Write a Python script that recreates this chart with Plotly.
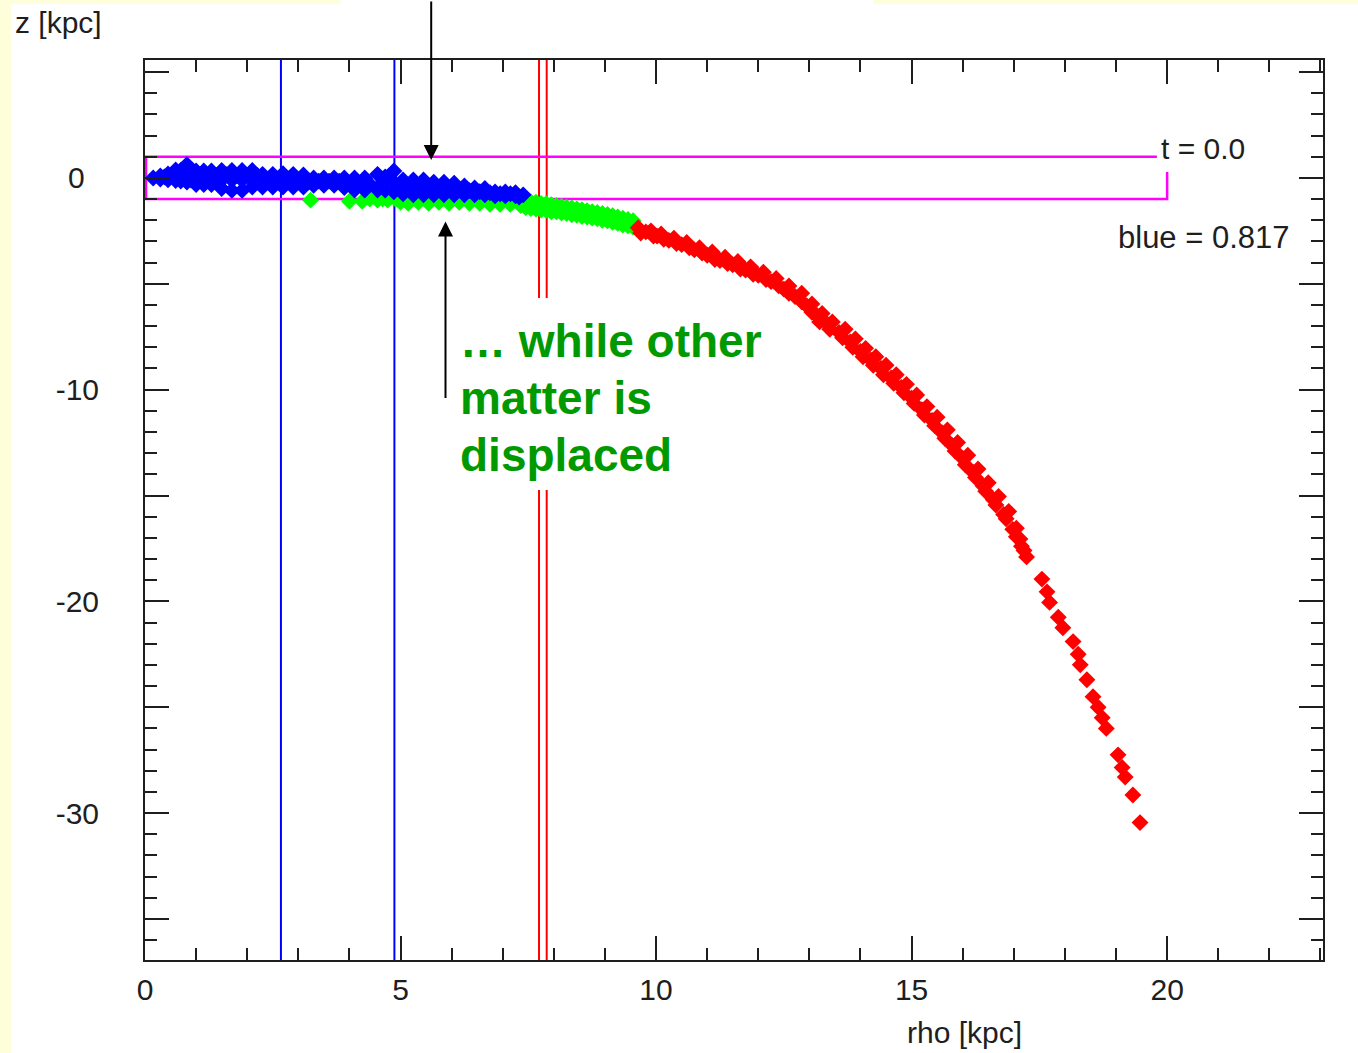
import plotly.graph_objects as go

# ---- particle positions: rho [kpc], z [kpc] ----
blue_rho = [0.16, 0.30, 0.30, 0.38, 0.45, 0.45, 0.52, 0.60, 0.60, 0.70, 0.70,
            0.82, 0.82, 0.82, 0.90, 0.90, 1.00, 1.00, 1.08, 1.15, 1.15, 1.22,
            1.30, 1.30, 1.40, 1.50, 1.50, 1.50, 1.60, 1.70, 1.70, 1.70, 1.80,
            1.90, 1.90, 1.90, 2.00, 2.10, 2.10, 2.10, 2.20, 2.30, 2.30, 2.40,
            2.50, 2.50, 2.60, 2.70, 2.70, 2.80, 2.90, 2.90, 3.00, 3.10, 3.10,
            3.20, 3.30, 3.30, 3.40, 3.50, 3.50, 3.60, 3.70, 3.70, 3.80, 3.90,
            3.90, 4.00, 4.10, 4.10, 4.20, 4.30, 4.30, 4.40, 4.55, 4.55, 4.62,
            4.70, 4.70, 4.78, 4.87, 4.87, 4.87, 4.95, 5.05, 5.05, 5.15, 5.25,
            5.25, 5.35, 5.45, 5.45, 5.55, 5.65, 5.65, 5.75, 5.85, 5.85, 5.95,
            6.05, 6.05, 6.15, 6.25, 6.25, 6.35, 6.45, 6.45, 6.55, 6.65, 6.65,
            6.75, 6.85, 6.85, 6.95, 7.05, 7.05, 7.15, 7.25, 7.25, 7.32, 7.40]
blue_z = [0.00, 0.09, -0.05, 0.05, 0.19, -0.09, 0.10, 0.38, -0.12, 0.35, -0.15,
          0.63, 0.15, -0.20, 0.40, -0.10, 0.33, -0.31, 0.00, 0.33, -0.31, 0.00,
          0.33, -0.31, 0.10, 0.35, -0.10, -0.50, 0.15, 0.35, -0.10, -0.59, 0.10,
          0.35, -0.10, -0.59, 0.10, 0.35, -0.05, -0.43, 0.10, 0.17, -0.43, -0.15,
          0.17, -0.43, -0.15, 0.20, -0.43, -0.15, 0.17, -0.43, -0.15, 0.14, -0.43,
          -0.20, 0.00, -0.35, -0.15, 0.00, -0.35, -0.15, 0.00, -0.35, -0.15, 0.00,
          -0.45, -0.25, 0.00, -0.57, -0.30, 0.00, -0.57, -0.30, 0.17, -0.57, -0.30,
          0.05, -0.57, 0.10, 0.33, -0.20, -0.65, -0.45, -0.10, -0.75, -0.45, -0.10,
          -0.80, -0.45, -0.10, -0.80, -0.50, -0.20, -0.80, -0.50, -0.20, -0.80, -0.50,
          -0.25, -0.80, -0.55, -0.38, -0.80, -0.60, -0.47, -0.80, -0.65, -0.50, -0.80,
          -0.70, -0.66, -0.85, -0.75, -0.66, -0.85, -0.75, -0.70, -0.85, -0.90, -0.80]

green_rho = [3.24, 4.00, 4.25, 4.40, 4.55, 4.65, 4.75, 4.90,
             5.00, 5.10, 5.15, 5.30, 5.35, 5.50, 5.55, 5.70, 5.75, 5.90, 5.95,
             6.10, 6.15, 6.30, 6.35, 6.50, 6.55, 6.70, 6.75, 6.90, 6.95,
             7.10, 7.15, 7.30, 7.35,
             7.45, 7.45, 7.55, 7.55, 7.65, 7.65, 7.75, 7.75, 7.85, 7.85,
             7.95, 7.95, 8.05, 8.05, 8.15, 8.15, 8.25, 8.25, 8.35, 8.35,
             8.45, 8.45, 8.55, 8.55, 8.65, 8.65, 8.75, 8.75, 8.85, 8.85,
             8.95, 8.95, 9.05, 9.05, 9.15, 9.15, 9.25, 9.25, 9.35, 9.35,
             9.45, 9.45, 9.55, 9.55]
green_z = [-1.05, -1.10, -1.10, -1.00, -1.05, -1.00, -1.05, -1.00,
           -1.15, -1.00, -1.20, -1.00, -1.15, -1.00, -1.20, -1.00, -1.15, -1.00, -1.20,
           -1.00, -1.15, -1.00, -1.20, -1.05, -1.20, -1.05, -1.25, -1.05, -1.25,
           -1.05, -1.25, -1.10, -1.30,
           -1.05, -1.40, -1.13, -1.45, -1.15, -1.47, -1.20, -1.52, -1.22, -1.53,
           -1.27, -1.60, -1.30, -1.60, -1.34, -1.66, -1.38, -1.68, -1.42, -1.74,
           -1.46, -1.76, -1.50, -1.82, -1.55, -1.85, -1.59, -1.90, -1.63, -1.93,
           -1.68, -2.00, -1.73, -2.03, -1.78, -2.10, -1.84, -2.14, -1.90, -2.22,
           -1.96, -2.26, -2.02, -2.32]

red_rho = [9.65, 9.70, 9.80, 9.90, 9.95, 10.02, 10.10, 10.15, 10.25, 10.35, 10.40,
           10.50, 10.60, 10.65, 10.75, 10.85, 10.90, 11.00, 11.10, 11.15, 11.25,
           11.35, 11.40, 11.50, 11.60, 11.65, 11.75, 11.85, 11.90, 12.00, 12.10,
           12.15, 12.25, 12.35, 12.40, 12.50, 12.60, 12.60, 12.72, 12.85, 12.85,
           12.95, 13.05, 13.05, 13.15, 13.25, 13.20, 13.35, 13.45, 13.40, 13.58,
           13.70, 13.65, 13.80, 13.90, 13.85, 14.00, 14.10, 14.05, 14.20, 14.30,
           14.25, 14.40, 14.50, 14.45, 14.60, 14.70, 14.65, 14.80, 14.90, 14.85,
           15.00, 15.10, 15.05, 15.20, 15.30, 15.25, 15.40, 15.50, 15.45, 15.60,
           15.70, 15.65, 15.80, 15.90, 15.85, 16.00, 16.10, 16.05, 16.20, 16.30,
           16.25, 16.40, 16.50, 16.45, 16.60, 16.70, 16.65, 16.80, 16.90, 16.85,
           16.98, 17.05, 17.05, 17.12, 17.15, 17.20, 17.25,
           17.55, 17.65, 17.70, 17.87, 17.96, 18.16, 18.26, 18.30,
           18.43, 18.55, 18.65, 18.73, 18.81, 19.04, 19.12, 19.18, 19.33, 19.47]
red_z = [-2.35, -2.60, -2.55, -2.50, -2.75, -2.75, -2.65, -2.90, -2.95, -2.85, -3.10,
         -3.15, -3.05, -3.30, -3.40, -3.30, -3.55, -3.65, -3.50, -3.85, -3.90,
         -3.75, -4.05, -4.10, -3.95, -4.30, -4.35, -4.20, -4.55, -4.60, -4.45,
         -4.80, -4.90, -4.75, -5.10, -5.25, -5.10, -5.45, -5.60, -5.45, -5.85,
         -6.05, -5.95, -6.35, -6.50, -6.40, -6.80, -6.90, -6.80, -7.15, -7.30,
         -7.15, -7.55, -7.75, -7.60, -8.00, -8.20, -8.05, -8.45, -8.60, -8.45,
         -8.85, -9.00, -8.85, -9.30, -9.45, -9.30, -9.70, -9.90, -9.75, -10.15,
         -10.40, -10.25, -10.65, -10.95, -10.80, -11.20, -11.45, -11.30, -11.70, -12.05,
         -11.90, -12.30, -12.65, -12.50, -12.90, -13.25, -13.10, -13.55, -13.90, -13.75,
         -14.15, -14.55, -14.40, -14.80, -15.20, -15.05, -15.45, -15.90, -15.75, -16.10,
         -16.60, -16.55, -16.95, -17.05, -17.40, -17.60, -17.90,
         -18.95, -19.55, -20.05, -20.75, -21.25, -21.90, -22.50, -23.00,
         -23.70, -24.50, -25.00, -25.50, -26.00, -27.25, -27.85, -28.30, -29.15, -30.45]

# ---- reference radii and selection box ----
blue_lines_rho = [2.66, 4.88]
red_lines_rho = [7.71, 7.86]
box_rho_max = 20.0
box_z_half = 1.0

# ---- axes ----
x_range = [0, 23.05]
y_range = [-36.94, 5.57]
x_tickvals = [0, 5, 10, 15, 20]
x_ticktext = ["0", "5", "10", "15", "20"]
y_tickvals = [5, 0, -5, -10, -15, -20, -25, -30, -35]
# the single-digit label is padded so it sits centred over the wider ones
y_ticktext = ["", "0\u00a0\u2009", "", "-10", "", "-20", "", "-30", ""]

time_label = "t = 0.0"
blue_fraction = 0.817
note_lines = ["\u2026 while other", "matter is", "displaced"]

FONT = "Liberation Sans, Arial, sans-serif"
AX = "#1e1e1e"

fig = go.Figure()
for rho, z, col in [(green_rho, green_z, "#00ff00"),
                    (red_rho, red_z, "#ff0000"),
                    (blue_rho, blue_z, "#0000ff")]:
    fig.add_trace(go.Scatter(
        x=rho, y=z, mode="markers",
        marker=dict(symbol="diamond", size=13, color=col, line=dict(width=0)),
        showlegend=False, hoverinfo="skip"))

shapes = []
# vertical reference lines
for r in blue_lines_rho:
    shapes.append(dict(type="line", xref="x", yref="paper", x0=r, x1=r, y0=0, y1=1,
                       line=dict(color="#0000ff", width=2), layer="below"))
for r in red_lines_rho:
    shapes.append(dict(type="line", xref="x", yref="paper", x0=r, x1=r, y0=0, y1=1,
                       line=dict(color="#ff0000", width=2), layer="below"))
# white backing behind the green note
shapes.append(dict(type="rect", xref="x", yref="y", x0=7.5, x1=8.1, y0=-14.74, y1=-5.67,
                   fillcolor="white", line=dict(width=0), layer="below"))
# selection box (open on the right next to the time label)
shapes.append(dict(type="path", xref="x", yref="y",
                   path=(f"M {box_rho_max - 0.2},{box_z_half} L 0.02,{box_z_half} "
                         f"L 0.02,{-box_z_half} L {box_rho_max},{-box_z_half} "
                         f"L {box_rho_max},0.28"),
                   line=dict(color="#ff00ff", width=2.5), layer="below"))
# slide background strips
shapes.append(dict(type="rect", xref="paper", yref="paper", x0=-0.124, x1=-0.1138,
                   y0=-0.11, y1=1.07, fillcolor="#fefedb", line=dict(width=0)))
shapes.append(dict(type="rect", xref="paper", yref="paper", x0=-0.124, x1=0.166,
                   y0=1.0625, y1=1.07, fillcolor="#fefedb", line=dict(width=0)))
shapes.append(dict(type="rect", xref="paper", yref="paper", x0=0.618, x1=1.03,
                   y0=1.0625, y1=1.07, fillcolor="#fefedb", line=dict(width=0)))

annotations = [
    dict(x=5.6, y=0.85, xref="x", yref="y", text="", showarrow=True,
         ax=0, ay=-175, arrowhead=2, arrowsize=1.5, arrowwidth=2, arrowcolor="black"),
    dict(x=5.88, y=-2.06, xref="x", yref="y", text="", showarrow=True,
         ax=0, ay=178, arrowhead=2, arrowsize=1.5, arrowwidth=2, arrowcolor="black"),
    dict(x=19.84, y=1.4, xref="x", yref="y", text=time_label, showarrow=False,
         xanchor="left", yanchor="middle", font=dict(family=FONT, size=30, color=AX)),
    dict(x=22.45, y=-2.83, xref="x", yref="y", text=f"blue = {blue_fraction}",
         showarrow=False, xanchor="right", yanchor="middle",
         font=dict(family=FONT, size=31, color=AX)),
    dict(x=-0.112, y=1.042, xref="paper", yref="paper", text="z [kpc]", showarrow=False,
         xanchor="left", yanchor="middle", font=dict(family=FONT, size=30, color=AX)),
    dict(x=0.696, y=-0.08, xref="paper", yref="paper", text="rho [kpc]", showarrow=False,
         xanchor="center", yanchor="middle", font=dict(family=FONT, size=30, color=AX)),
]
for line, zpos in zip(note_lines, [-7.70, -10.39, -13.08]):
    annotations.append(dict(x=6.12, y=zpos, xref="x", yref="y", text=f"<b>{line}</b>",
                            showarrow=False, xanchor="left", yanchor="middle",
                            font=dict(family=FONT, size=46, color="#009900")))

axis_common = dict(showline=True, linewidth=2, linecolor=AX, mirror="allticks",
                   ticks="inside", ticklen=24, tickwidth=2, tickcolor=AX,
                   showgrid=False, zeroline=False,
                   tickfont=dict(family=FONT, size=30, color=AX))

fig.update_layout(
    width=1358, height=1053,
    margin=dict(l=145, r=35, t=60, b=93),
    paper_bgcolor="white", plot_bgcolor="white",
    shapes=shapes, annotations=annotations,
    xaxis=dict(range=x_range, tickmode="array", tickvals=x_tickvals, ticktext=x_ticktext,
               ticklabelstandoff=2,
               minor=dict(tickmode="linear", tick0=0, dtick=1, ticks="inside",
                          ticklen=12, tickwidth=2, tickcolor=AX),
               **axis_common),
    yaxis=dict(range=y_range, tickmode="array", tickvals=y_tickvals, ticktext=y_ticktext,
               ticklabelstandoff=38,
               minor=dict(tickmode="linear", tick0=0, dtick=1, ticks="inside",
                          ticklen=12, tickwidth=2, tickcolor=AX),
               **axis_common),
)

fig.write_html("out.html")
